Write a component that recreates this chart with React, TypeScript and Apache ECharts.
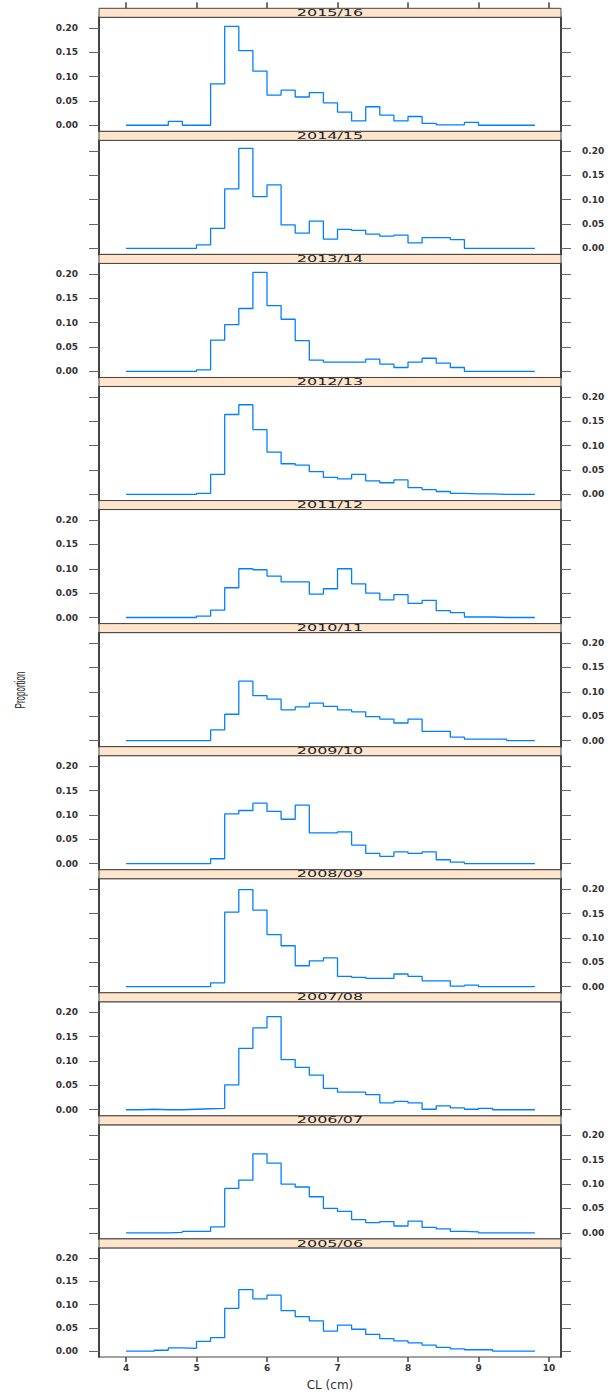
import React, { useEffect, useRef } from "react";
import * as echarts from "echarts";

const CL = [4.0, 4.2, 4.4, 4.6, 4.8, 5.0, 5.2, 5.4, 5.6, 5.8, 6.0, 6.2, 6.4, 6.6, 6.8, 7.0, 7.2, 7.4, 7.6, 7.8, 8.0, 8.2, 8.4, 8.6, 8.8, 9.0, 9.2, 9.4, 9.6, 9.8];

const SEASONS = ["2015/16", "2014/15", "2013/14", "2012/13", "2011/12", "2010/11", "2009/10", "2008/09", "2007/08", "2006/07", "2005/06"];

const p2015 = [0, 0, 0, 0.008, 0, 0, 0.085, 0.203, 0.153, 0.111, 0.062, 0.072, 0.058, 0.067, 0.046, 0.027, 0.009, 0.038, 0.021, 0.009, 0.018, 0.004, 0.001, 0.001, 0.006, 0, 0, 0, 0, 0];
const p2014 = [0, 0, 0, 0, 0, 0.007, 0.041, 0.122, 0.205, 0.106, 0.130, 0.048, 0.031, 0.056, 0.019, 0.039, 0.037, 0.029, 0.025, 0.027, 0.011, 0.022, 0.022, 0.018, 0, 0, 0, 0, 0, 0];
const p2013 = [0, 0, 0, 0, 0, 0.003, 0.064, 0.096, 0.129, 0.203, 0.135, 0.107, 0.063, 0.023, 0.019, 0.019, 0.019, 0.025, 0.015, 0.008, 0.019, 0.027, 0.017, 0.008, 0, 0, 0, 0, 0, 0];
const p2012 = [0, 0, 0, 0, 0, 0.002, 0.041, 0.164, 0.184, 0.133, 0.087, 0.063, 0.060, 0.047, 0.035, 0.032, 0.041, 0.028, 0.024, 0.030, 0.014, 0.010, 0.006, 0.002, 0.001, 0.001, 0, 0, 0, 0];
const p2011 = [0, 0, 0, 0, 0, 0.003, 0.015, 0.061, 0.100, 0.098, 0.085, 0.073, 0.073, 0.048, 0.059, 0.100, 0.069, 0.050, 0.036, 0.047, 0.029, 0.035, 0.014, 0.010, 0.001, 0.001, 0, 0, 0, 0];
const p2010 = [0, 0, 0, 0, 0, 0, 0.022, 0.054, 0.122, 0.092, 0.085, 0.063, 0.069, 0.077, 0.070, 0.063, 0.059, 0.049, 0.044, 0.036, 0.044, 0.019, 0.019, 0.007, 0.003, 0.003, 0.003, 0, 0, 0];
const p2009 = [0, 0, 0, 0, 0, 0, 0.010, 0.102, 0.109, 0.124, 0.107, 0.091, 0.120, 0.063, 0.063, 0.065, 0.038, 0.021, 0.015, 0.024, 0.021, 0.024, 0.008, 0.003, 0, 0, 0, 0, 0, 0];
const p2008 = [0, 0, 0, 0, 0, 0, 0.008, 0.153, 0.199, 0.157, 0.107, 0.084, 0.043, 0.053, 0.059, 0.021, 0.019, 0.017, 0.017, 0.026, 0.021, 0.012, 0.012, 0.001, 0.003, 0, 0, 0, 0, 0];
const p2007 = [0, 0.001, 0, 0, 0.001, 0.002, 0.003, 0.051, 0.126, 0.168, 0.191, 0.103, 0.087, 0.071, 0.044, 0.036, 0.036, 0.031, 0.014, 0.017, 0.014, 0.001, 0.008, 0.004, 0.001, 0.003, 0, 0, 0, 0];
const p2006 = [0, 0, 0, 0.001, 0.003, 0.003, 0.012, 0.091, 0.108, 0.162, 0.143, 0.100, 0.094, 0.074, 0.050, 0.044, 0.027, 0.021, 0.023, 0.014, 0.024, 0.011, 0.008, 0.003, 0.002, 0, 0, 0, 0, 0];
const p2005 = [0, 0, 0.002, 0.007, 0.006, 0.021, 0.029, 0.092, 0.132, 0.112, 0.120, 0.087, 0.074, 0.065, 0.043, 0.056, 0.047, 0.036, 0.027, 0.022, 0.018, 0.013, 0.008, 0.005, 0.003, 0.003, 0, 0, 0, 0];

const PANELS = [p2015, p2014, p2013, p2012, p2011, p2010, p2009, p2008, p2007, p2006, p2005];

const Y_TICKS = [0, 0.05, 0.1, 0.15, 0.2];
const X_TICKS = [4, 5, 6, 7, 8, 9, 10];

export default function App() {
  const ref = useRef<HTMLDivElement>(null);

  useEffect(() => {
    document.body.style.margin = "0";
    const chart = echarts.init(ref.current as HTMLDivElement, null, { renderer: "svg" });

    const LEFT = 99;
    const WIDTH = 462;
    const TOP0 = 8.3;
    const STEP = 123.06;
    const STRIP = 9;
    const PH = STEP - STRIP;
    const n = PANELS.length;
    const XMIN = 3.617;
    const XMAX = 10.17;

    const labelFont = { fontFamily: "DejaVu Sans", fontSize: 9, fontWeight: "bold" as const, color: "#333" };

    const grids: any[] = [];
    const xAxes: any[] = [];
    const yAxes: any[] = [];
    const series: any[] = [];
    const graphics: any[] = [];

    for (let k = 0; k < n; k++) {
      const s = TOP0 + STEP * k;
      grids.push({
        left: LEFT,
        width: WIDTH,
        top: s + STRIP,
        height: PH,
        show: true,
        borderColor: "#444",
        borderWidth: 1,
        backgroundColor: "#fff",
        containLabel: false,
      });
      const isBottom = k === n - 1;
      xAxes.push({
        type: "value",
        gridIndex: k,
        min: XMIN,
        max: XMAX,
        position: "bottom",
        axisLine: { show: false, onZero: false },
        splitLine: { show: false },
        axisTick: {
          show: isBottom,
          inside: false,
          length: 5,
          lineStyle: { color: "#444", width: 1.5 },
          customValues: X_TICKS,
        },
        axisLabel: {
          show: isBottom,
          margin: 6,
          customValues: X_TICKS,
          formatter: (v: number) => String(v),
          ...labelFont,
        },
        name: isBottom ? "CL (cm)" : "",
        nameLocation: "middle",
        nameGap: 22,
        nameTextStyle: { fontFamily: "DejaVu Sans", fontSize: 12, color: "#333" },
      });
      const labelsLeft = k % 2 === 0;
      for (const side of ["left", "right"]) {
        const showLabel = (side === "left") === labelsLeft;
        yAxes.push({
          type: "value",
          gridIndex: k,
          position: side,
          min: -0.0125,
          max: 0.2215,
          axisLine: { show: true, onZero: false, lineStyle: { color: "#444", width: 2 } },
          splitLine: { show: false },
          axisTick: {
            show: true,
            inside: false,
            length: 10,
            lineStyle: { color: "#666", width: 1 },
            customValues: Y_TICKS,
          },
          axisLabel: {
            show: showLabel,
            margin: 21,
            customValues: Y_TICKS,
            formatter: (v: number) => v.toFixed(2),
            ...labelFont,
          },
        });
      }
      series.push({
        type: "line",
        xAxisIndex: k,
        yAxisIndex: 2 * k,
        step: "end",
        showSymbol: false,
        symbol: "none",
        lineStyle: { color: "#0080FF", width: 1.3 },
        data: CL.map((x, i) => [x, PANELS[k][i]]),
        silent: true,
      });
      graphics.push({
        type: "rect",
        shape: { x: LEFT, y: s, width: WIDTH, height: STRIP },
        style: { fill: "#FFE5CC", stroke: "#444", lineWidth: 1 },
        z: 10,
      });
      graphics.push({
        type: "text",
        x: LEFT + WIDTH / 2,
        y: s + STRIP / 2 + 0.3,
        scaleX: 2,
        style: {
          text: SEASONS[k],
          font: '8px "DejaVu Sans"',
          fill: "#222",
          align: "center",
          verticalAlign: "middle",
          textAlign: "center",
          textVerticalAlign: "middle",
        },
        z: 11,
      });
    }

    // thin band above the first strip that carries the top x-axis ticks
    grids.push({ left: LEFT, width: WIDTH, top: 1, height: TOP0 - 1, show: false });
    xAxes.push({
      type: "value",
      gridIndex: n,
      min: XMIN,
      max: XMAX,
      position: "bottom",
      z: 30,
      axisLine: { show: false, onZero: false },
      splitLine: { show: false },
      axisTick: {
        show: true,
        inside: true,
        length: 6,
        lineStyle: { color: "#444", width: 1.5 },
        customValues: X_TICKS,
      },
      axisLabel: { show: false, customValues: X_TICKS },
    });
    yAxes.push({ type: "value", gridIndex: n, min: 0, max: 1, show: false });

    graphics.push({
      type: "text",
      x: 19,
      y: 690,
      rotation: Math.PI / 2,
      scaleY: 1.8,
      style: {
        text: "Proportion",
        font: '8px "Liberation Sans"',
        fill: "#222",
        align: "center",
        verticalAlign: "middle",
        textAlign: "center",
        textVerticalAlign: "middle",
      },
      z: 11,
    });

    chart.setOption({
      animation: false,
      backgroundColor: "#fff",
      grid: grids,
      xAxis: xAxes,
      yAxis: yAxes,
      series,
      graphic: { elements: graphics },
    });

    return () => chart.dispose();
  }, []);

  return <div ref={ref} style={{ width: 614, height: 1392 }} />;
}
